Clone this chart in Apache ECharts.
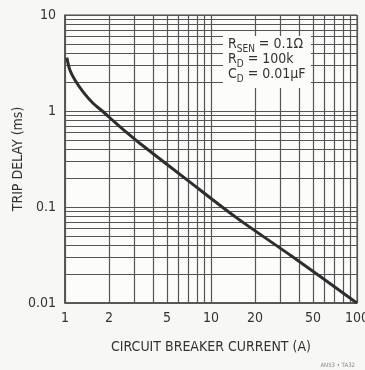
<!DOCTYPE html>
<html>
<head>
<meta charset="utf-8">
<script src="https://cdn.jsdelivr.net/npm/echarts@6/dist/echarts.min.js"></script>
<style>
  html, body { margin: 0; padding: 0; background: #f7f7f5; }
  #chart { width: 365px; height: 370px; }
</style>
</head>
<body>
<div id="chart"></div>
<script>
// trip delay curve
const currentA = [1.03, 1.08, 1.17, 1.33, 1.55, 1.8, 2.2, 2.6, 3.2, 7.0, 15, 36, 94, 100];
const tripDelayMs = [3.6, 2.67, 2.1, 1.58, 1.21, 1.0, 0.76, 0.61, 0.47, 0.187, 0.077, 0.0305, 0.0107, 0.01];

const xTickLabels = [1, 2, 5, 10, 20, 50, 100];
const yTickLabels = [0.01, 0.1, 1, 10];
// grid lines of the log paper
const xGridValues = [1, 2, 3, 4, 5, 6, 7, 8, 9, 10, 20, 30, 40, 50, 60, 70, 80, 90, 100];
const yGridValues = [0.01, 0.02, 0.03, 0.04, 0.05, 0.06, 0.07, 0.08, 0.09,
  0.1, 0.2, 0.3, 0.4, 0.5, 0.6, 0.7, 0.8, 0.9,
  1, 2, 3, 4, 5, 6, 7, 8, 9, 10];

const FONT = "'Liberation Sans Narrow', 'DejaVu Sans Condensed', 'Liberation Sans', sans-serif";
const INK = '#333';
const GRID = '#555';

const myChart = echarts.init(document.getElementById('chart'));

const gridLines = [];
xGridValues.forEach(v => gridLines.push({ xAxis: v }));
yGridValues.forEach(v => gridLines.push({ yAxis: v }));

const option = {
  backgroundColor: '#f7f7f5',
  animation: false,
  grid: {
    left: 65,
    right: 8,
    top: 15,
    bottom: 67,
    outerBoundsMode: 'none',
    containLabel: false,
    show: true,
    backgroundColor: '#fcfcfb',
    borderColor: '#444',
    borderWidth: 1
  },
  xAxis: {
    type: 'log',
    logBase: 10,
    min: 1,
    max: 100,
    name: 'CIRCUIT BREAKER CURRENT (A)',
    nameLocation: 'middle',
    nameGap: 37,
    nameMoveOverlap: false,
    nameTextStyle: { fontFamily: FONT, fontSize: 14, color: INK },
    axisLine: { show: true, lineStyle: { color: '#444', width: 1.5 } },
    axisTick: { show: false },
    splitLine: { show: false },
    axisLabel: {
      customValues: xTickLabels,
      fontFamily: FONT,
      fontSize: 14,
      color: INK,
      margin: 8,
      showMaxLabel: true,
      hideOverlap: false
    }
  },
  yAxis: {
    type: 'log',
    logBase: 10,
    min: 0.01,
    max: 10,
    name: 'TRIP DELAY (ms)',
    nameLocation: 'middle',
    nameGap: 40,
    nameMoveOverlap: false,
    nameRotate: 90,
    nameTextStyle: { fontFamily: FONT, fontSize: 14, color: INK },
    axisLine: { show: true, lineStyle: { color: '#444', width: 1.5 } },
    axisTick: { show: false },
    splitLine: { show: false },
    axisLabel: {
      customValues: yTickLabels,
      fontFamily: FONT,
      fontSize: 14,
      color: INK,
      margin: 9,
      formatter: v => String(v)
    }
  },
  series: [
    {
      name: 'paper',
      type: 'line',
      data: [],
      silent: true,
      z: 1,
      markLine: {
        silent: true,
        symbol: ['none', 'none'],
        label: { show: false },
        lineStyle: { color: GRID, width: 1.2, type: 'solid' },
        emphasis: { disabled: true },
        data: gridLines
      }
    },
    {
      name: 'Trip delay',
      type: 'line',
      z: 5,
      data: currentA.map((c, i) => [c, tripDelayMs[i]]),
      showSymbol: false,
      smooth: 0.3,
      lineStyle: { color: '#2e2e2e', width: 3 },
      emphasis: { disabled: true }
    }
  ],
  graphic: [
    {
      type: 'rect',
      left: 223,
      top: 36,
      shape: { width: 88, height: 52 },
      style: { fill: '#fcfcfb' },
      z: 10
    },
    {
      type: 'text',
      left: 228,
      top: 37,
      z: 11,
      style: {
        text: '{m|R}{s|SEN}{m| = 0.1Ω}\n{m|R}{s|D}{m| = 100k}\n{m|C}{s|D}{m| = 0.01µF}',
        fontFamily: FONT,
        fill: INK,
        rich: {
          m: { fontFamily: FONT, fontSize: 14, color: INK, lineHeight: 15, verticalAlign: 'bottom' },
          s: { fontFamily: FONT, fontSize: 10, color: INK, lineHeight: 15, verticalAlign: 'bottom', padding: [0, 0, -3, 0] }
        }
      }
    },
    {
      type: 'text',
      right: 10,
      bottom: 2,
      style: {
        text: 'AN53 • TA32',
        fontFamily: FONT,
        fontSize: 6,
        fill: '#888'
      }
    }
  ]
};

myChart.setOption(option);
</script>
</body>
</html>
